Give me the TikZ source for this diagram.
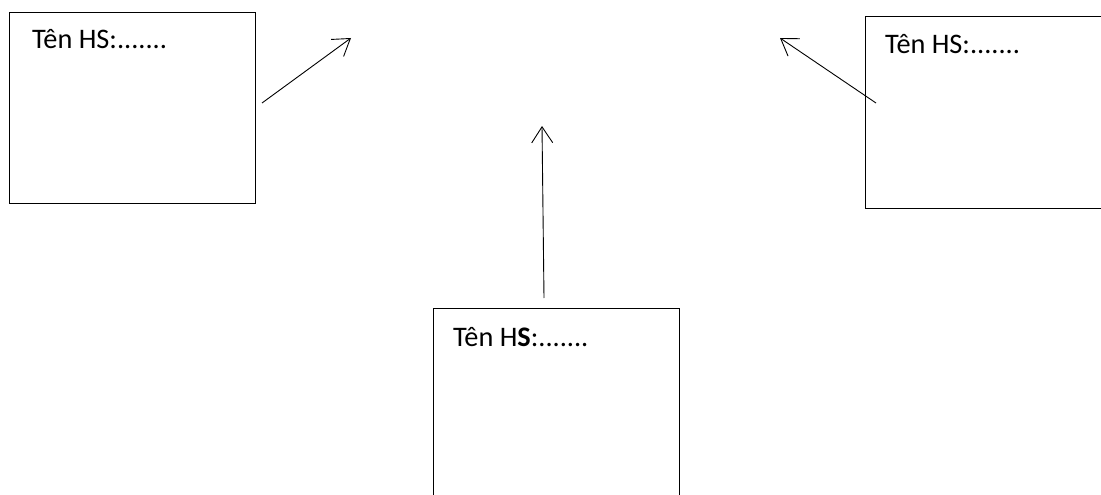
\documentclass[tikz,border=0pt]{standalone}
\usepackage{fontspec}
\setmainfont{Carlito}
\usetikzlibrary{arrows.meta}
\begin{document}
\begin{tikzpicture}[x=1pt,y=-1pt,
  card/.style={draw, line width=1.1pt, rectangle, inner sep=0pt, anchor=north west},
  namefield/.style={anchor=base west, inner sep=0pt, font=\fontsize{28.3}{34}\selectfont},
  link/.style={line width=0.9pt, -{Straight Barb[length=16pt,width=21pt]}}]
\useasboundingbox (0,0) rectangle (1101,495);
\clip (0,0) rectangle (1101,495);

% three name cards
\node[card, minimum width=246pt, minimum height=191pt] (leftCard) at (9,12) {};
\node[card, minimum width=260pt, minimum height=192pt] (rightCard) at (865,16) {};
\node[card, minimum width=246pt, minimum height=210pt] (bottomCard) at (433,308) {};

% card captions
\node[namefield] (leftName) at (32,49) {Tên HS:.......};
\node[namefield] (rightName) at (885,54) {Tên HS:.......};
\node[namefield] (bottomName) at (453,346) {Tên H\textbf{S}:.......};

% arrow ends
\coordinate (leftTail) at (262,103);
\coordinate (leftTip) at (351,38);
\coordinate (rightTail) at (876,103);
\coordinate (rightTip) at (780,38);
\coordinate (bottomTail) at (544,298);
\coordinate (bottomTip) at (542,126);

% arrows pointing into the open space
\draw[link] (leftTail) -- (leftTip);
\draw[link] (rightTail) -- (rightTip);
\draw[link] (bottomTail) -- (bottomTip);
\end{tikzpicture}
\end{document}
